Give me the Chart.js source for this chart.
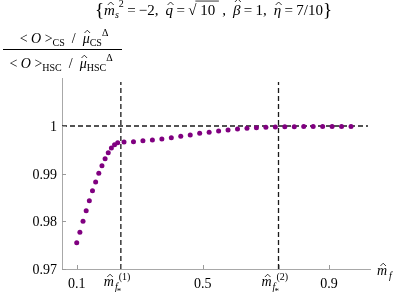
<!DOCTYPE html>
<html><head><meta charset="utf-8">
<script src="https://cdn.jsdelivr.net/npm/chart.js@4/dist/chart.umd.min.js"></script>
<style>html,body{margin:0;padding:0;background:#fff}#wrap{width:399px;height:297px}</style>
</head><body><div id="wrap"><canvas id="c" width="399" height="297"></canvas></div>
<script>
// ---- data ----
const mfValues = [0.10,0.11,0.12,0.13,0.14,0.15,0.16,0.17,0.18,0.19,0.20,0.21,0.22,0.23,
  0.25,0.28,0.31,0.34,0.37,0.40,0.43,0.46,0.49,0.52,0.55,0.58,0.61,0.64,0.67,0.70,0.73,
  0.76,0.79,0.82,0.85,0.88,0.91,0.94,0.97];
const ratioValues = [0.97552,0.97770,0.98001,0.98223,0.98433,0.98643,0.98825,0.99008,0.99167,0.99314,0.99440,0.99538,0.99608,0.99649,
  0.99664,0.99670,0.99691,0.99706,0.99727,0.99754,0.99784,0.99811,0.99847,0.99868,0.99895,0.99916,0.99937,0.99952,0.99964,0.99973,0.99979,
  0.99984,0.99986,0.99988,0.99989,0.99990,0.99990,0.99990,0.99990];
const mfStar = [0.24, 0.74];          // critical masses m_f*^(1), m_f*^(2)
const refLevel = 1;                   // ratio = 1 reference
const xTicks = [0.1, 0.24, 0.5, 0.74, 0.9];
const xTickLabels = ['0.1', '*1', '0.5', '*2', '0.9'];
const yTicks = [0.97, 0.98, 0.99, 1];
const yTickLabels = ['0.97', '0.98', '0.99', '1'];
const xRange = [0.0533, 1.0302];
const yRange = [0.97, 1.01007];
const vLineTop = 1.00923;
const hLineEnd = 1.0238;

const SERIF = '"Liberation Serif","Times New Roman",serif';
function fontOf(p){ return (p.it?'italic ':'') + (p.size||13) + 'px ' + SERIF; }
function drawRich(ctx, parts, x, y, align, target){
  let w = 0, gaps = 0;
  parts.forEach(p=>{ ctx.font = fontOf(p); p.w = ctx.measureText(p.t).width; if(!p.stay) w += p.w + (p.dx||0); if(p.gap) gaps++; });
  let extra = 0;
  if (target && gaps) { extra = (target - w)/gaps; w = target; }
  let cx = align==='center' ? x - w/2 : (align==='right' ? x - w : x);
  ctx.textAlign = 'left'; ctx.textBaseline = 'alphabetic';
  parts.forEach(p=>{
    ctx.font = fontOf(p);
    const px = cx + (p.dx||0);
    const py = y + (p.dy||0);
    ctx.fillText(p.t, px, py);
    const s = p.size||13;
    if (p.hat){
      const hc = px + p.w/2 + (p.hs||0.08*s);
      const hb = py - (p.hy||0.62*s);
      const hw = 0.2*s, hh = 0.2*s;
      ctx.beginPath(); ctx.lineWidth = 0.8;
      ctx.moveTo(hc-hw, hb); ctx.lineTo(hc, hb-hh); ctx.lineTo(hc+hw, hb);
      ctx.stroke();
    }
    if (p.over){
      ctx.beginPath(); ctx.lineWidth = 0.8;
      const oy = py - 0.93*s;
      ctx.moveTo(px-1, oy); ctx.lineTo(px + p.w, oy); ctx.stroke();
    }
    if (!p.stay) cx = px + p.w + (p.gap ? extra : 0);
  });
  return w;
}
function starLabel(n){
  return [
    {t:'m', it:true, size:14, hat:true, hy:9},
    {t:'f', it:true, size:10, dy:4, dx:1},
    {t:'*', size:9, dy:8, stay:true, dx:-1},
    {t:'('+n+')', size:10, dy:-6, dx:1}
  ];
}

const textPlugin = {
  id:'texts',
  afterDraw(chart){
    const ctx = chart.ctx, xs = chart.scales.x, ys = chart.scales.y;
    const ca = chart.chartArea;
    ctx.save();
    // inward tick marks
    ctx.strokeStyle = '#9a9a9a'; ctx.lineWidth = 1;
    yTicks.forEach(v=>{ const py = Math.round(ys.getPixelForValue(v))+0.5; ctx.beginPath(); ctx.moveTo(ca.left, py); ctx.lineTo(ca.left+4, py); ctx.stroke(); });
    xTicks.forEach(v=>{ const px = Math.round(xs.getPixelForValue(v))+0.5; ctx.beginPath(); ctx.moveTo(px, ca.bottom); ctx.lineTo(px, ca.bottom-4); ctx.stroke(); });
    ctx.fillStyle = '#000'; ctx.strokeStyle = '#000';
    // y tick labels
    yTicks.forEach((v,i)=>{ drawRich(ctx, [{t:yTickLabels[i], size:14}], ca.left-5, ys.getPixelForValue(v)+5, 'right'); });
    // x tick labels
    xTicks.forEach((v,i)=>{
      const px = xs.getPixelForValue(v);
      const lab = xTickLabels[i];
      if (lab[0]==='*') drawRich(ctx, starLabel(lab.slice(1)), px-17, ca.bottom+17, 'left');
      else drawRich(ctx, [{t:lab, size:14}], px, ca.bottom+19, 'center');
    });
    // x axis title
    drawRich(ctx, [{t:'m', it:true, size:14, hat:true, hy:9},{t:'f', it:true, size:10, dy:4, dx:2}], ca.right+7, ca.bottom+6, 'left');
    // chart title
    drawRich(ctx, [
      {t:'{', size:19, dy:1},
      {t:'m', it:true, size:15, hat:true, hy:10},
      {t:'s', it:true, size:10, dy:3},
      {t:'2', size:10, dy:-8, gap:1},
      {t:'=', size:15, gap:1},
      {t:'\u22122, ', size:15, gap:1},
      {t:'q', it:true, size:15, hat:true, hy:10, gap:1},
      {t:'=', size:15, gap:1},
      {t:'\u221A', size:15},
      {t:' 10 ', size:15, over:true, gap:1},
      {t:', ', size:15, gap:1},
      {t:'\u03B2', it:true, size:15, hat:true, hy:13, gap:1},
      {t:'=', size:15, gap:1},
      {t:'1, ', size:15, gap:1},
      {t:'\u03B7', it:true, size:15, hat:true, hy:10, gap:1},
      {t:'=', size:15, gap:1},
      {t:'7/10', size:15},
      {t:'}', size:19, dy:1}
    ], 213.5, 15, 'center', 237);
    // y axis title (fraction)
    drawRich(ctx, [
      {t:'< ', size:14},{t:'O', it:true, size:14},{t:' >', size:14},
      {t:'CS', size:10, dy:3},{t:'  /  ', size:14},
      {t:'\u03BC', it:true, size:14, hat:true, hy:10},{t:'CS', size:10, dy:3},{t:'\u0394', size:10, dy:-7}
    ], 64, 43, 'center');
    ctx.beginPath(); ctx.lineWidth = 1; ctx.moveTo(3, 49.5); ctx.lineTo(122, 49.5); ctx.stroke();
    drawRich(ctx, [
      {t:'< ', size:14},{t:'O', it:true, size:14},{t:' >', size:14},
      {t:'HSC', size:10, dy:3},{t:'  /  ', size:14},
      {t:'\u03BC', it:true, size:14, hat:true, hy:10},{t:'HSC', size:10, dy:3},{t:'\u0394', size:10, dy:-7}
    ], 61, 68, 'center');
    ctx.restore();
  }
};

const points = mfValues.map((x,i)=>({x:x, y:ratioValues[i]}));
const dashStyle = {type:'line', borderColor:'#1a1a1a', borderWidth:1.3, borderDash:[5,3], pointRadius:0, showLine:true, fill:false, order:2};

new Chart(document.getElementById('c'), {
  type:'scatter',
  data:{datasets:[
    {data:points, backgroundColor:'#800080', borderColor:'#800080', borderWidth:0, pointRadius:2.5, order:0},
    Object.assign({data:[{x:mfStar[0], y:yRange[0]},{x:mfStar[0], y:vLineTop}]}, dashStyle),
    Object.assign({data:[{x:mfStar[1], y:yRange[0]},{x:mfStar[1], y:vLineTop}]}, dashStyle),
    Object.assign({data:[{x:xRange[0], y:refLevel},{x:hLineEnd, y:refLevel}]}, dashStyle)
  ]},
  options:{
    responsive:false, animation:false, devicePixelRatio:1,
    plugins:{legend:{display:false}, tooltip:{enabled:false}, title:{display:false}},
    layout:{padding:{top:78, right:29, left:0, bottom:0}},
    scales:{
      x:{type:'linear', min:xRange[0], max:xRange[1],
        grid:{display:false}, border:{display:true, color:'#a8a8a8', width:1},
        ticks:{display:false},
        afterBuildTicks:s=>{ s.ticks = xTicks.map(v=>({value:v})); },
        afterFit:s=>{ s.height = 28; }},
      y:{type:'linear', min:yRange[0], max:yRange[1],
        grid:{display:false}, border:{display:true, color:'#a8a8a8', width:1},
        ticks:{display:false},
        afterBuildTicks:s=>{ s.ticks = yTicks.map(v=>({value:v})); },
        afterFit:s=>{ s.width = 62; }}
    }
  },
  plugins:[textPlugin]
});
</script>
</body></html>
